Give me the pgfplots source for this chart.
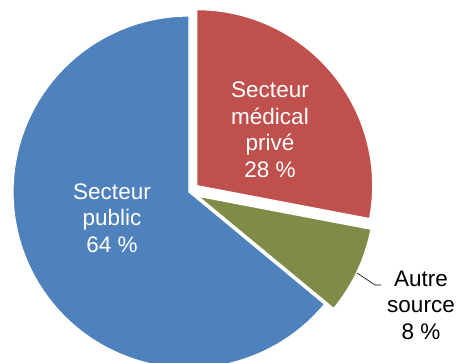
\documentclass[border=0pt]{standalone}
\usepackage{pgfplots}
\usepackage{pgfplotstable}
\pgfplotsset{compat=1.18}
\usepackage{fontspec}
\setmainfont{Liberation Sans}
\definecolor{pieBlue}{HTML}{4F81BD}
\definecolor{pieRed}{HTML}{C0504D}
\definecolor{pieGreen}{HTML}{7F8C47}

\pgfplotstableread{
label value explode
prive 28 10
autre 8 10
public 64 0
}\piedata

\begin{document}
\begin{tikzpicture}
\pgfplotstablegetelem{0}{value}\of\piedata \let\vA\pgfplotsretval
\pgfplotstablegetelem{1}{value}\of\piedata \let\vB\pgfplotsretval
\pgfplotstablegetelem{2}{value}\of\piedata \let\vC\pgfplotsretval
\pgfplotstablegetelem{0}{explode}\of\piedata \let\eA\pgfplotsretval
\pgfplotstablegetelem{1}{explode}\of\piedata \let\eB\pgfplotsretval
\pgfplotstablegetelem{2}{explode}\of\piedata \let\eC\pgfplotsretval
% angles (clockwise from 12 o'clock)
\pgfmathsetmacro\aA{90}
\pgfmathsetmacro\aB{\aA-3.6*\vA}
\pgfmathsetmacro\aC{\aB-3.6*\vB}
\pgfmathsetmacro\aD{\aC-3.6*\vC}
\pgfmathsetmacro\R{176}
\pgfmathsetmacro\cx{189}
\pgfmathsetmacro\cy{170}
% exploded centres
\pgfmathsetmacro\mA{(\aA+\aB)/2}
\pgfmathsetmacro\mB{(\aB+\aC)/2}
\pgfmathsetmacro\mC{(\aC+\aD)/2}
\pgfmathsetmacro\xA{\cx+\eA*cos(\mA)}
\pgfmathsetmacro\yA{\cy+\eA*sin(\mA)}
\pgfmathsetmacro\xB{\cx+\eB*cos(\mB)}
\pgfmathsetmacro\yB{\cy+\eB*sin(\mB)}
\pgfmathsetmacro\xC{\cx+\eC*cos(\mC)}
\pgfmathsetmacro\yC{\cy+\eC*sin(\mC)}
\useasboundingbox (0,0) rectangle (458pt,362pt);
\begin{axis}[
  at={(0,0)}, anchor=south west,
  width=458pt, height=362pt, scale only axis,
  xmin=0, xmax=458, ymin=0, ymax=362,
  hide axis, clip=true,
]
% public
\addplot[fill=pieBlue, draw=white, line width=1.2pt, domain=\aD:\aC, samples=150, variable=\t]
  ({\xC+\R*cos(\t)}, {\yC+\R*sin(\t)}) -- (axis cs:\xC,\yC) -- cycle;
% autre
\addplot[fill=pieGreen, draw=white, line width=1.2pt, domain=\aC:\aB, samples=40, variable=\t]
  ({\xB+\R*cos(\t)}, {\yB+\R*sin(\t)}) -- (axis cs:\xB,\yB) -- cycle;
% prive
\addplot[fill=pieRed, draw=white, line width=1.2pt, domain=\aB:\aA, samples=80, variable=\t]
  ({\xA+\R*cos(\t)}, {\yA+\R*sin(\t)}) -- (axis cs:\xA,\yA) -- cycle;
% leader line
\addplot[black, line width=0.6pt] coordinates {(357,89) (375,77) (381,77)};
% labels
\node[white, align=center, font=\fontsize{22.5}{26.5}\selectfont] at (axis cs:112,144) {Secteur\\public\\64 \%};
\node[white, align=center, font=\fontsize{22.5}{26.5}\selectfont] at (axis cs:270,232) {Secteur\\médical\\privé\\28 \%};
\node[black, align=center, font=\fontsize{22.5}{26.5}\selectfont] at (axis cs:421,57) {Autre\\source\\8 \%};
\end{axis}
\end{tikzpicture}
\end{document}
